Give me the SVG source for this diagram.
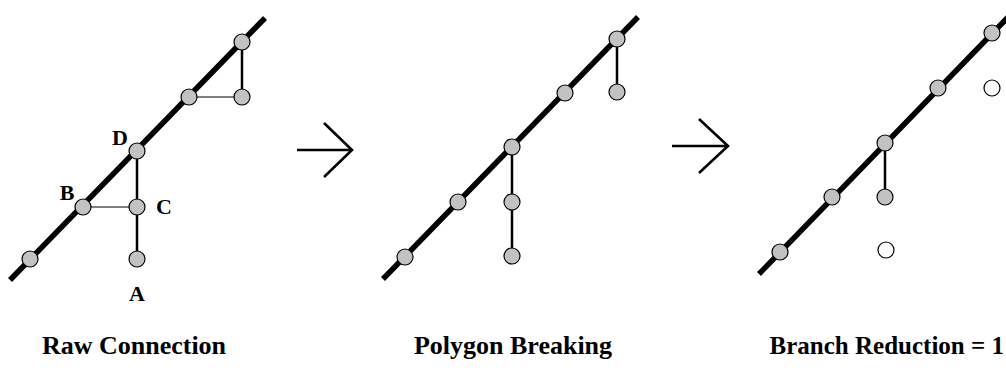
<svg xmlns="http://www.w3.org/2000/svg" width="1006" height="379" viewBox="0 0 1006 379">
<style>
.main{stroke:#000;stroke-width:5.5;fill:none}
.br{stroke:#000;stroke-width:2.5;fill:none}
.thin{stroke:#000;stroke-width:1;fill:none}
.arr{stroke:#000;stroke-width:2.6;fill:none;stroke-linecap:butt}
.nd{fill:#c2c2c2;stroke:#000;stroke-width:1.2}
.open{fill:#fff;stroke:#000;stroke-width:1.2}
.lbl{font-family:"Liberation Serif","Times New Roman",serif;font-weight:bold;font-size:22px;text-anchor:middle}
.ttl{font-family:"Liberation Serif","Times New Roman",serif;font-weight:bold;font-size:26px;text-anchor:middle}
</style>
<rect width="1006" height="379" fill="#fff"/>
<g id="connectors">
<line class="main" x1="10" y1="280" x2="265" y2="18"/>
<line class="br" x1="137" y1="151" x2="137" y2="259"/>
<line class="br" x1="242" y1="42" x2="242" y2="97"/>
<line class="thin" x1="83" y1="207" x2="137" y2="207"/>
<line class="thin" x1="189" y1="97" x2="242" y2="97"/>
<line class="main" x1="383" y1="279" x2="638" y2="17"/>
<line class="br" x1="512" y1="147" x2="512" y2="256"/>
<line class="br" x1="617" y1="39" x2="617" y2="92"/>
<line class="main" x1="759" y1="274" x2="1012" y2="13"/>
<line class="br" x1="885" y1="143" x2="885" y2="197"/>
<path class="arr" d="M297,150 H352 M324,123 L352,150 L324,177"/>
<path class="arr" d="M672,146 H728 M699,119 L728,146 L699,173"/>
</g>
<g id="panel1">
<circle id="n1a" class="nd" cx="30" cy="259" r="8"/>
<circle id="nB" class="nd" cx="83" cy="207" r="8"/>
<circle id="nD" class="nd" cx="137" cy="151" r="8"/>
<circle id="n1d" class="nd" cx="189" cy="97" r="8"/>
<circle id="n1e" class="nd" cx="242" cy="42" r="8"/>
<circle id="n1f" class="nd" cx="242" cy="97" r="8"/>
<circle id="nC" class="nd" cx="137" cy="207" r="8"/>
<circle id="nA" class="nd" cx="137" cy="259" r="8"/>
<text class="lbl" x="120" y="145">D</text>
<text class="lbl" x="67" y="200">B</text>
<text class="lbl" x="164" y="214">C</text>
<text class="lbl" x="137" y="301">A</text>
<text class="ttl" x="134" y="354">Raw Connection</text>
</g>
<g id="panel2">
<circle class="nd" cx="405" cy="257" r="8"/>
<circle class="nd" cx="458" cy="202" r="8"/>
<circle class="nd" cx="512" cy="147" r="8"/>
<circle class="nd" cx="565" cy="93" r="8"/>
<circle class="nd" cx="617" cy="39" r="8"/>
<circle class="nd" cx="617" cy="92" r="8"/>
<circle class="nd" cx="512" cy="202" r="8"/>
<circle class="nd" cx="512" cy="256" r="8"/>
<text class="ttl" x="513" y="354">Polygon Breaking</text>
</g>
<g id="panel3">
<circle class="nd" cx="780" cy="252" r="8"/>
<circle class="nd" cx="832" cy="197" r="8"/>
<circle class="nd" cx="885" cy="143" r="8"/>
<circle class="nd" cx="938" cy="88" r="8"/>
<circle class="nd" cx="992" cy="33" r="8"/>
<circle class="nd" cx="885" cy="197" r="8"/>
<circle class="open" cx="992" cy="88" r="8"/>
<circle class="open" cx="886" cy="250" r="8"/>
<text class="ttl" x="1004" y="354" style="text-anchor:end;font-size:25px">Branch Reduction = 1</text>
</g>
</svg>
